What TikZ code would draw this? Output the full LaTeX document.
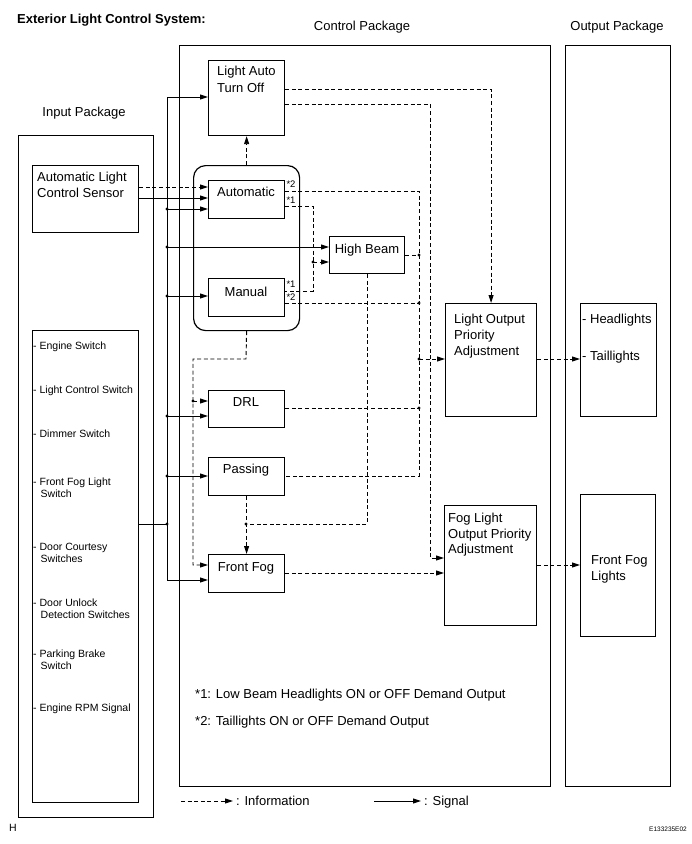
\documentclass[tikz,border=0pt]{standalone}
\usepackage{fontspec}
\setmainfont{Liberation Sans}
\usetikzlibrary{arrows.meta}
\begin{document}
\begin{tikzpicture}[x=1pt,y=-1pt,
 box/.style={draw, line width=1.2pt, inner sep=0pt, anchor=north west},
 sig/.style={line width=0.95pt},
 info/.style={line width=0.95pt, dash pattern=on 4pt off 2.6pt},
 arr/.style={-{Triangle[length=8pt,width=5pt]}},
 dot/.style={circle, fill, inner sep=0pt, minimum size=3.4pt},
 big/.style={inner sep=0pt, font=\fontsize{13}{15}\selectfont, text height=9.3pt, text depth=0pt},
 lt/.style={big, anchor=west},
 ct/.style={big, anchor=center},
 sm/.style={inner sep=0pt, anchor=west, font=\fontsize{10.5}{12}\selectfont, text height=7.5pt, text depth=0pt},
 note/.style={inner sep=0pt, anchor=center, font=\fontsize{9.5}{11}\selectfont, text height=6.8pt, text depth=0pt},
]
\useasboundingbox (0,0) rectangle (692,844);

% ---------- headings
\node[lt, font=\bfseries\fontsize{13}{15}\selectfont] (title) at (17,18.5) {Exterior Light Control System:};
\node[ct] (hctrl) at (362,25.5) {Control Package};
\node[ct] (hout) at (617,25.5) {Output Package};
\node[ct] (hin) at (84,112) {Input Package};

% ---------- packages
\node[box, minimum width=135pt, minimum height=682pt] (inpkg) at (18,135) {};
\node[box, minimum width=371pt, minimum height=741pt] (ctrlpkg) at (179,45) {};
\node[box, minimum width=105pt, minimum height=741pt] (outpkg) at (565,45) {};

% ---------- input boxes
\node[box, minimum width=106pt, minimum height=67pt] (sensor) at (32,165) {};
\node[lt] (sensorT1) at (37,177) {Automatic Light};
\node[lt] (sensorT2) at (37,193) {Control Sensor};

\node[box, minimum width=106pt, minimum height=472pt] (switches) at (32,330) {};
\node[sm] (s1) at (33,346) {- Engine Switch};
\node[sm] (s2) at (33,390) {- Light Control Switch};
\node[sm] (s3) at (33,434) {- Dimmer Switch};
\node[sm] (s4a) at (33,481.5) {- Front Fog Light};
\node[sm] (s4b) at (40.5,493.5) {Switch};
\node[sm] (s5a) at (33,547) {- Door Courtesy};
\node[sm] (s5b) at (40.5,559) {Switches};
\node[sm] (s6a) at (33,603) {- Door Unlock};
\node[sm] (s6b) at (40.5,615) {Detection Switches};
\node[sm] (s7a) at (33,654) {- Parking Brake};
\node[sm] (s7b) at (40.5,666) {Switch};
\node[sm] (s8) at (33,708) {- Engine RPM Signal};

% ---------- control boxes
\node[box, minimum width=76pt, minimum height=75pt] (lato) at (208,60) {};
\node[lt] (latoT1) at (217,71) {Light Auto};
\node[lt] (latoT2) at (217,88) {Turn Off};

\node[box, minimum width=106pt, minimum height=165pt, rounded corners=12pt] (group) at (193,165) {};
\node[box, minimum width=76pt, minimum height=38pt] (auto) at (208,180) {};
\node[ct] (autoT) at (246,192) {Automatic};
\node[box, minimum width=76pt, minimum height=38pt] (manual) at (208,278) {};
\node[ct] (manualT) at (246,292) {Manual};
\node[note] (n2a) at (291,184) {*2};
\node[note] (n1a) at (291,200) {*1};
\node[note] (n1m) at (291,284) {*1};
\node[note] (n2m) at (291,297.5) {*2};

\node[box, minimum width=75pt, minimum height=37pt] (hb) at (329,236) {};
\node[ct] (hbT) at (367,249) {High Beam};

\node[box, minimum width=76pt, minimum height=37pt] (drl) at (208,390) {};
\node[ct] (drlT) at (246,402) {DRL};
\node[box, minimum width=76pt, minimum height=38pt] (passing) at (208,457) {};
\node[ct] (passingT) at (246,469) {Passing};
\node[box, minimum width=76pt, minimum height=38pt] (ffog) at (208,554) {};
\node[ct] (ffogT) at (246,567) {Front Fog};

\node[box, minimum width=91pt, minimum height=113pt] (lopa) at (445,303) {};
\node[lt] (lopaT1) at (454,319) {Light Output};
\node[lt] (lopaT2) at (454,335) {Priority};
\node[lt] (lopaT3) at (454,351) {Adjustment};

\node[box, minimum width=92pt, minimum height=120pt] (fopa) at (444,505) {};
\node[lt] (fopaT1) at (448,518) {Fog Light};
\node[lt] (fopaT2) at (448,534) {Output Priority};
\node[lt] (fopaT3) at (448,549) {Adjustment};

% ---------- output boxes
\node[box, minimum width=76pt, minimum height=113pt] (heads) at (580,303) {};
\node[lt] (headsT1) at (582,319) {- Headlights};
\node[lt] (headsT2) at (582,356) {- Taillights};
\node[box, minimum width=75pt, minimum height=142pt] (fflights) at (580,494) {};
\node[lt] (fflT1) at (591,560) {Front Fog};
\node[lt] (fflT2) at (591,576) {Lights};

% ---------- junction coordinates
\coordinate (bt) at (167,97);
\coordinate (bb) at (167,580);
\coordinate (jA) at (167,209);
\coordinate (jH) at (167,247);
\coordinate (jM) at (167,296);
\coordinate (jD) at (167,416);
\coordinate (jP) at (167,476);
\coordinate (jIn) at (167,524);
\coordinate (j1) at (313,262);
\coordinate (jB1) at (419,255);
\coordinate (jB2) at (419,303);
\coordinate (jL) at (419,359);
\coordinate (jB3) at (419,408);
\coordinate (jF) at (246,524);
\coordinate (jR) at (193,401);

% ---------- signal lines
\draw[sig] (bt) -- (bb);
\draw[sig,arr] (bt) -- (bt -| lato.west);
\draw[sig,arr] (jA) -- (jA -| auto.west);
\draw[sig,arr] (jH) -- (jH -| hb.west);
\draw[sig,arr] (jM) -- (jM -| manual.west);
\draw[sig,arr] (jD) -- (jD -| drl.west);
\draw[sig,arr] (jP) -- (jP -| passing.west);
\draw[sig,arr] (bb) -- (bb -| ffog.west);
\draw[sig] (switches.east |- jIn) -- (jIn);
\draw[sig,arr] (sensor.east |- 0,198) -- (auto.west |- 0,198);

% ---------- information lines
\draw[info,arr] (sensor.east |- 0,187) -- (auto.west |- 0,187);
\draw[info,arr] (group.north) -- (lato.south);
\draw[info,arr] (lato.east |- 0,89) -| (lopa.north);
\draw[info,arr] (lato.east |- 0,104) -- (430,104) -- (430,558) -- (fopa.west |- 0,558);
\draw[info] (auto.east |- 0,191) -- (419,191) -- (419,476) -- (passing.east |- 0,476);
\draw[info] (auto.east |- 0,206) -- (313,206) -- (313,291) -- (manual.east |- 0,291);
\draw[info,arr] (j1) -- (j1 -| hb.west);
\draw[info] (hb.east |- jB1) -- (jB1);
\draw[info] (manual.east |- jB2) -- (jB2);
\draw[info,arr] (jL) -- (jL -| lopa.west);
\draw[info] (drl.east |- jB3) -- (jB3);
\draw[info] (hb.south) -- (hb.south |- jF) -- (jF);
\draw[info,arr] (passing.south) -- (ffog.north);
\draw[info,arr] (group.south) -- (246,359) -- (193,359) -- (193,565) -- (ffog.west |- 0,565);
\draw[info,arr] (jR) -- (jR -| drl.west);
\draw[info,arr] (ffog.east |- 0,573) -- (fopa.west |- 0,573);
\draw[info,arr] (lopa.east |- 0,359) -- (heads.west |- 0,359);
\draw[info,arr] (fopa.east |- 0,565) -- (fflights.west |- 0,565);

% ---------- dots
\foreach \p/\n in {jA/dA, jH/dH, jM/dM, jD/dD, jP/dP, jIn/dIn, j1/d1, jB1/dB1, jB2/dB2, jL/dL, jB3/dB3, jF/dF, jR/dR}
  \node[dot] (\n) at (\p) {};

% ---------- notes
\node[lt] (foot1) at (195,694) {*1: Low Beam Headlights ON or OFF Demand Output};
\node[lt] (foot2) at (195,721) {*2: Taillights ON or OFF Demand Output};

% ---------- legend
\coordinate (li1) at (181,801);
\coordinate (li2) at (233,801);
\draw[info,arr] (li1) -- (li2);
\node[lt] (liT) at (236,801) {: Information};
\coordinate (ls1) at (374,801);
\coordinate (ls2) at (421,801);
\draw[sig,arr] (ls1) -- (ls2);
\node[lt] (lsT) at (424,801) {: Signal};

\node[inner sep=0pt, anchor=west, font=\fontsize{10.5}{12}\selectfont] (hmark) at (9,828) {H};
\node[inner sep=0pt, anchor=east, font=\fontsize{6.5}{8}\selectfont] (code) at (687,829) {E133235E02};
\end{tikzpicture}
\end{document}
